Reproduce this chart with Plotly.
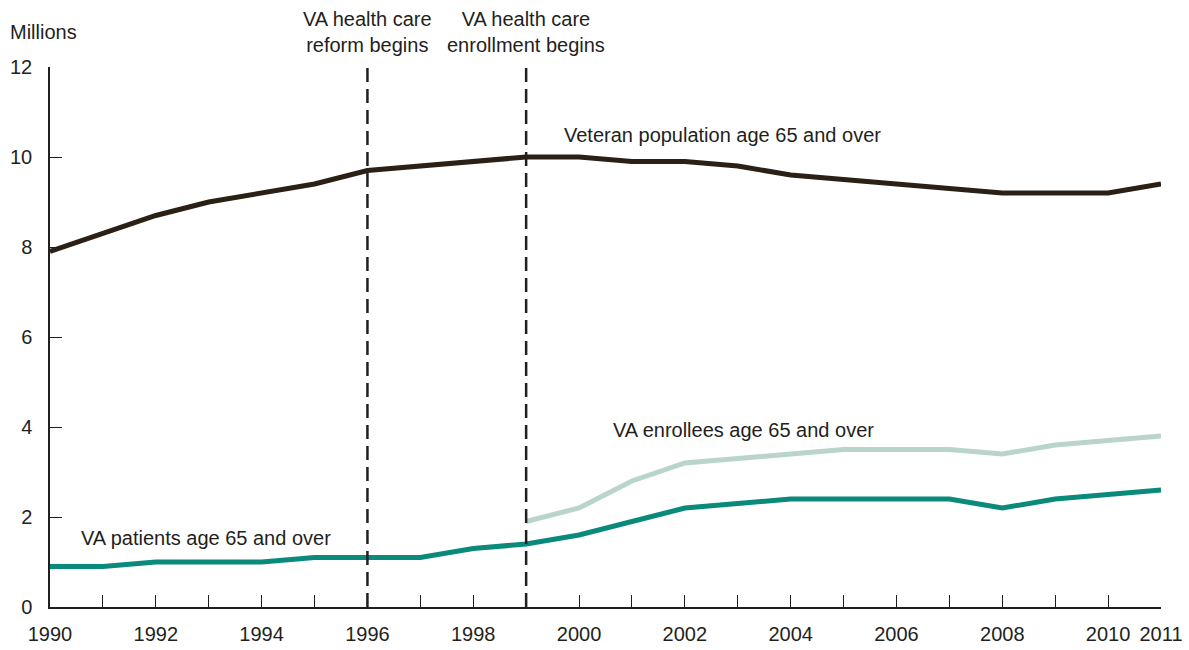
import plotly.graph_objects as go

years = list(range(1990, 2012))
veterans = [7.9, 8.3, 8.7, 9.0, 9.2, 9.4, 9.7, 9.8, 9.9, 10.0, 10.0, 9.9, 9.9, 9.8, 9.6, 9.5, 9.4, 9.3, 9.2, 9.2, 9.2, 9.4]
patients = [0.9, 0.9, 1.0, 1.0, 1.0, 1.1, 1.1, 1.1, 1.3, 1.4, 1.6, 1.9, 2.2, 2.3, 2.4, 2.4, 2.4, 2.4, 2.2, 2.4, 2.5, 2.6]
enroll_years = list(range(1999, 2012))
enrollees = [1.9, 2.2, 2.8, 3.2, 3.3, 3.4, 3.5, 3.5, 3.5, 3.4, 3.6, 3.7, 3.8]
event_years = [1996, 1999]
event_labels = ["VA health care<br>reform begins", "VA health care<br>enrollment begins"]
x_tick_vals = years
x_tick_text = [str(y) if (y % 2 == 0 or y == 2011) else "" for y in years]
y_tick_vals = [0, 2, 4, 6, 8, 10, 12]

TXT = "#231f20"
FONT = "Liberation Sans, Arial, sans-serif"
FS = 20

fig = go.Figure()
fig.add_trace(go.Scatter(x=enroll_years, y=enrollees, mode="lines",
                         line=dict(color="#b9d4cd", width=5), cliponaxis=False, showlegend=False))
fig.add_trace(go.Scatter(x=years, y=patients, mode="lines",
                         line=dict(color="#0a8a7b", width=5), cliponaxis=False, showlegend=False))
fig.add_trace(go.Scatter(x=years, y=veterans, mode="lines",
                         line=dict(color="#2a2016", width=5), cliponaxis=False, showlegend=False))

for ey, lab in zip(event_years, event_labels):
    fig.add_shape(type="line", x0=ey, x1=ey, y0=0, y1=12, xref="x", yref="y",
                  line=dict(color="#231f20", width=2.5, dash="14px,7px"))
    fig.add_annotation(x=ey, y=12, xref="x", yref="y", text=lab, showarrow=False,
                       yanchor="bottom", yshift=9, xanchor="center",
                       font=dict(size=FS, color=TXT, family=FONT))

fig.add_annotation(x=0, xref="paper", xanchor="left", xshift=-42, y=12, yref="y",
                   yanchor="bottom", yshift=22, text="Millions", showarrow=False,
                   font=dict(size=FS, color=TXT, family=FONT))
fig.add_annotation(x=1999.68, y=10.5, xref="x", yref="y", text="Veteran population age 65 and over",
                   showarrow=False, xanchor="left", font=dict(size=FS, color=TXT, family=FONT))
fig.add_annotation(x=2000.6, y=3.93, xref="x", yref="y", text="VA enrollees age 65 and over",
                   showarrow=False, xanchor="left", font=dict(size=FS, color=TXT, family=FONT))
fig.add_annotation(x=1990.55, y=1.53, xref="x", yref="y", text="VA patients age 65 and over",
                   showarrow=False, xanchor="left", font=dict(size=FS, color=TXT, family=FONT))

fig.update_layout(
    width=1189, height=650,
    margin=dict(l=50, r=28, t=67, b=43),
    plot_bgcolor="white", paper_bgcolor="white",
    font=dict(family=FONT, size=FS, color=TXT),
    showlegend=False,
)
fig.update_xaxes(range=[1990, 2011], tickvals=x_tick_vals, ticktext=x_tick_text,
                 ticks="inside", ticklen=12, tickwidth=1, tickcolor="#231f20",
                 showline=True, linecolor="#231f20", linewidth=1.5, automargin=False,
                 ticklabelstandoff=8,
                 showgrid=False, zeroline=False, tickfont=dict(size=FS, color=TXT))
fig.update_yaxes(range=[0, 12], tickvals=y_tick_vals,
                 ticks="inside", ticklen=12, tickwidth=1, tickcolor="#231f20",
                 showline=True, linecolor="#231f20", linewidth=1.5, automargin=False,
                 ticklabelstandoff=12,
                 showgrid=False, zeroline=False, tickfont=dict(size=FS, color=TXT))

fig.write_html("out.html", config={"displayModeBar": False},
               post_script="document.body.style.margin='0px';document.body.style.overflow='hidden';")
